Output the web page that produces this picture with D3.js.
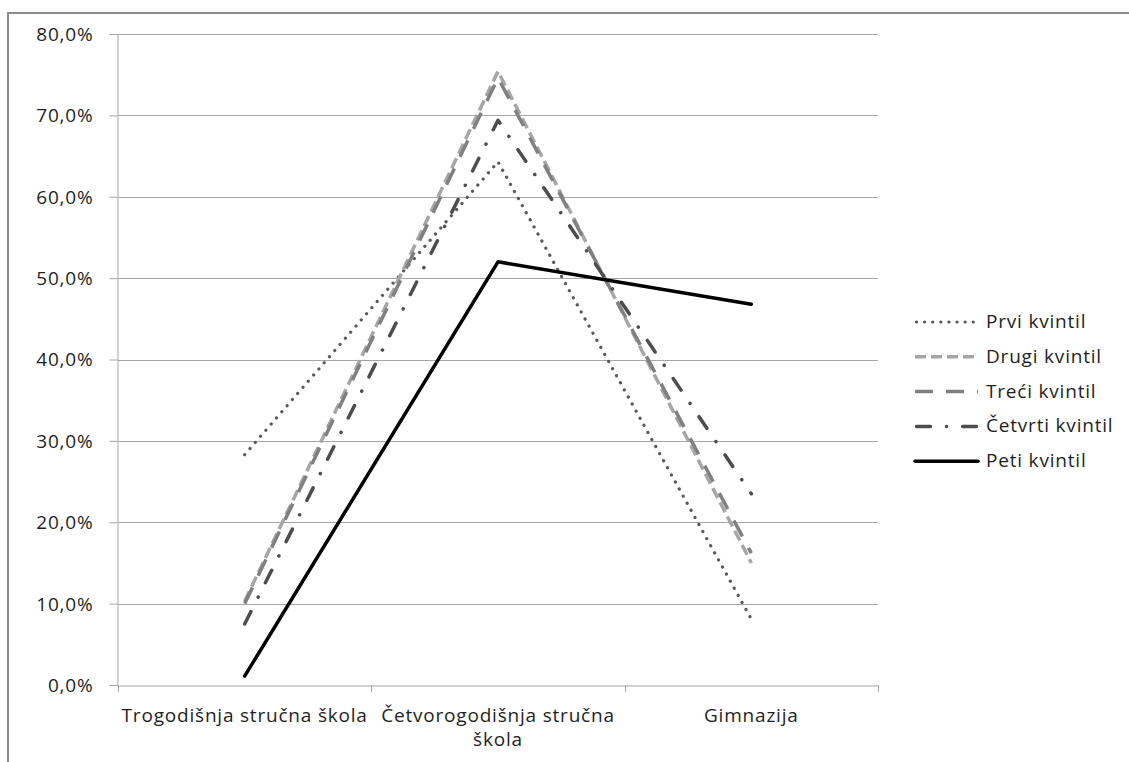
<!DOCTYPE html>
<html>
<head>
<meta charset="utf-8">
<script src="https://cdn.jsdelivr.net/npm/d3@7"></script>
<style>
  body { margin: 0; background: #fff; }
  text { font-family: "Open Sans", sans-serif; fill: #1f1f1f; letter-spacing: 0.8px; }
</style>
</head>
<body>
<div class="container"></div>
<script>
// categories and series (values in %)
var categories = ['Trogodišnja stručna škola', 'Četvorogodišnja stručna škola', 'Gimnazija'];
var seriesNames = ['Prvi kvintil', 'Drugi kvintil', 'Treći kvintil', 'Četvrti kvintil', 'Peti kvintil'];
var prvi = [28.3, 64.3, 8.1];
var drugi = [10.3, 75.4, 15.0];
var treci = [10.0, 74.6, 16.2];
var cetvrti = [7.5, 69.4, 23.5];
var peti = [1.1, 52.0, 46.8];
var yTicks = [0, 10, 20, 30, 40, 50, 60, 70, 80];

var width = 1129, height = 762,
  plotLeft = 118, plotRight = 878, plotTop = 34, plotBottom = 685;

var styles = [
  { color: '#595959', dash: '0.1,8', cap: 'round', w: 3.2 },
  { color: '#a6a6a6', dash: '11,5', cap: 'butt', w: 3.5 },
  { color: '#808080', dash: '18,13', cap: 'butt', w: 3.5 },
  { color: '#4d4d4d', dash: '14,16,0.1,16', cap: 'round', w: 3.5 },
  { color: '#000000', dash: null, cap: 'round', w: 3.5 }
];
var allValues = [prvi, drugi, treci, cetvrti, peti];

var svg = d3.select('.container').append('svg')
  .attr('width', width)
  .attr('height', height);

// outer frame
svg.append('rect')
  .attr('x', 8).attr('y', 13)
  .attr('width', width).attr('height', height)
  .attr('fill', 'none')
  .attr('stroke', '#8c8c8c')
  .attr('stroke-width', 2);

var x = d3.scaleBand().domain(categories).range([plotLeft, plotRight]);
var y = d3.scaleLinear().domain([0, 80]).range([plotBottom, plotTop]);

// gridlines
svg.append('g').selectAll('line')
  .data(yTicks.slice(1)).enter()
  .append('line')
  .attr('x1', plotLeft).attr('x2', plotRight)
  .attr('y1', function(d) { return Math.round(y(d)) + 0.5; })
  .attr('y2', function(d) { return Math.round(y(d)) + 0.5; })
  .attr('stroke', '#a6a6a6');

// y axis
var yAxis = svg.append('g')
  .attr('transform', 'translate(' + (plotLeft - 0.5) + ',0)')
  .call(d3.axisLeft(y).tickValues(yTicks).tickSize(8).tickPadding(16)
    .tickFormat(function(d) { return d3.format('.1f')(d).replace('.', ',') + '%'; }));
yAxis.select('.domain').attr('stroke', '#a6a6a6');
yAxis.selectAll('.tick line').attr('stroke', '#a6a6a6');
yAxis.selectAll('text').style('font-size', '19px').attr('fill', '#1f1f1f').attr('dy', '0.34em');

// x axis
var xAxis = svg.append('g')
  .attr('transform', 'translate(0,' + (plotBottom + 0.5) + ')')
  .call(d3.axisBottom(x).tickSize(0).tickFormat(''));
xAxis.select('.domain').attr('stroke', '#a6a6a6');
svg.append('g').selectAll('line')
  .data(d3.range(categories.length + 1)).enter()
  .append('line')
  .attr('x1', function(d) { return Math.round(plotLeft + d * x.step()) + 0.5; })
  .attr('x2', function(d) { return Math.round(plotLeft + d * x.step()) + 0.5; })
  .attr('y1', plotBottom).attr('y2', plotBottom + 7)
  .attr('stroke', '#a6a6a6');

var labelLines = [['Trogodišnja stručna škola'], ['Četvorogodišnja stručna', 'škola'], ['Gimnazija']];
categories.forEach(function(c, i) {
  var t = svg.append('text')
    .attr('x', x(c) + x.bandwidth() / 2)
    .attr('y', 722)
    .attr('text-anchor', 'middle')
    .style('font-size', '19px');
  labelLines[i].forEach(function(s, j) {
    t.append('tspan')
      .attr('x', x(c) + x.bandwidth() / 2)
      .attr('dy', j === 0 ? 0 : 24)
      .text(s);
  });
});

// lines
var line = d3.line()
  .x(function(d, i) { return x(categories[i]) + x.bandwidth() / 2; })
  .y(function(d) { return y(d); });

svg.append('g').selectAll('path')
  .data(allValues).enter()
  .append('path')
  .attr('d', line)
  .attr('fill', 'none')
  .attr('stroke', function(d, i) { return styles[i].color; })
  .attr('stroke-width', function(d, i) { return styles[i].w; })
  .attr('stroke-dasharray', function(d, i) { return styles[i].dash; })
  .attr('stroke-linecap', function(d, i) { return styles[i].cap; })
  .attr('stroke-linejoin', 'round');

// legend
var legend = svg.append('g').selectAll('g')
  .data(seriesNames).enter()
  .append('g')
  .attr('transform', function(d, i) { return 'translate(915,' + (322 + i * 34.8) + ')'; });
legend.append('line')
  .attr('x1', function(d, i) { return i === 0 || i === 3 ? 1.5 : 0; })
  .attr('x2', function(d, i) { return i === 3 ? 61.5 : 63; })
  .attr('stroke', function(d, i) { return styles[i].color; })
  .attr('stroke-width', function(d, i) { return styles[i].w; })
  .attr('stroke-dasharray', function(d, i) { return styles[i].dash; })
  .attr('stroke-linecap', function(d, i) { return styles[i].cap; });
legend.append('text')
  .attr('x', 71)
  .attr('y', 6)
  .style('font-size', '19px')
  .text(function(d) { return d; });
</script>
</body>
</html>
